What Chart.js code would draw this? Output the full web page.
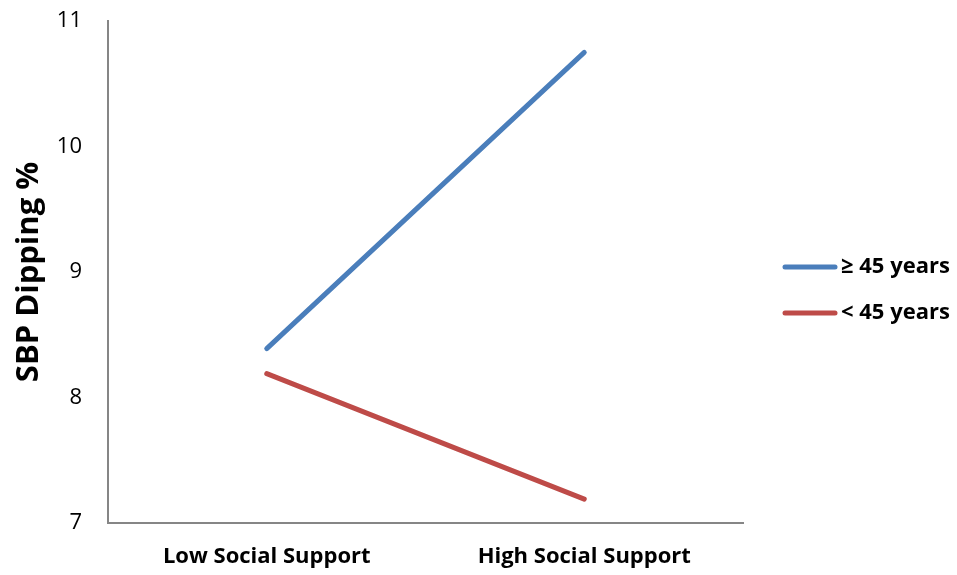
<!DOCTYPE html>
<html>
<head>
<meta charset="utf-8">
<script src="https://cdn.jsdelivr.net/npm/chart.js@4/dist/chart.umd.min.js"></script>
<style>
  html, body { margin: 0; padding: 0; background: #fff; }
  #wrap { width: 957px; height: 575px; position: relative; }
</style>
</head>
<body>
<div id="wrap"><canvas id="chart"></canvas></div>
<script>
// ─── Data ───────────────────────────────────────────────────────────────
const categories = ['Low Social Support', 'High Social Support'];
const olderVals   = [8.39, 10.75];   // ≥ 45 years
const youngerVals = [8.19, 7.19];    // < 45 years
const yTicks = [7, 8, 9, 10, 11];

const FONT = '"Open Sans", sans-serif';
const AXIS = '#868686';

// ─── Legend on the right, drawn from the datasets ──────────────────────────
const sideLegend = {
    id: 'sideLegend',
    afterDraw(chart) {
        const ctx = chart.ctx;
        const x0 = chart.chartArea.right + 42;
        let y = 267;
        ctx.save();
        ctx.font = 'bold 22px ' + FONT;
        ctx.textBaseline = 'middle';
        ctx.fillStyle = '#000';
        chart.data.datasets.forEach(ds => {
            ctx.strokeStyle = ds.borderColor;
            ctx.lineWidth = ds.borderWidth;
            ctx.lineCap = 'round';
            ctx.beginPath();
            ctx.moveTo(x0, y);
            ctx.lineTo(x0 + 50, y);
            ctx.stroke();
            ctx.fillText(ds.label, x0 + 56, y);
            y += 46;
        });
        ctx.restore();
    },
};

new Chart(document.getElementById('chart'), {
    type: 'line',
    data: {
        labels: categories,
        datasets: [
            {
                label: '≥ 45 years',
                data: olderVals,
                borderColor: '#4a7ebb',
                backgroundColor: '#4a7ebb',
                borderWidth: 5,
                borderCapStyle: 'round',
                pointRadius: 0,
                tension: 0,
            },
            {
                label: '< 45 years',
                data: youngerVals,
                borderColor: '#be4b48',
                backgroundColor: '#be4b48',
                borderWidth: 5,
                borderCapStyle: 'round',
                pointRadius: 0,
                tension: 0,
            },
        ],
    },
    plugins: [sideLegend],
    options: {
        responsive: true,
        maintainAspectRatio: false,
        animation: false,
        layout: { padding: { top: 21, right: 214, bottom: 5, left: 11 } },
        plugins: {
            tooltip: { enabled: false },
            legend: { display: false },
        },
        scales: {
            x: {
                offset: true,
                afterFit: s => { s.height = 47; },
                grid: { display: false, drawTicks: false },
                border: { display: true, color: AXIS, width: 2 },
                ticks: {
                    padding: 21,
                    color: '#000',
                    font: { family: FONT, size: 22, weight: 'bold' },
                },
            },
            y: {
                min: yTicks[0],
                max: yTicks[yTicks.length - 1],
                afterBuildTicks: s => { s.ticks = yTicks.map(v => ({ value: v })); },
                afterFit: s => { s.width = 97; s.paddingTop = 0; s.paddingBottom = 0; },
                grid: { display: false, drawTicks: false },
                border: { display: true, color: AXIS, width: 2 },
                ticks: {
                    padding: 26,
                    color: '#000',
                    font: { family: FONT, size: 22 },
                },
                title: {
                    display: true,
                    text: 'SBP Dipping %',
                    color: '#000',
                    font: { family: FONT, size: 31, weight: 'bold' },
                    padding: { top: 0, bottom: 12 },
                },
            },
        },
    },
});
</script>
</body>
</html>
